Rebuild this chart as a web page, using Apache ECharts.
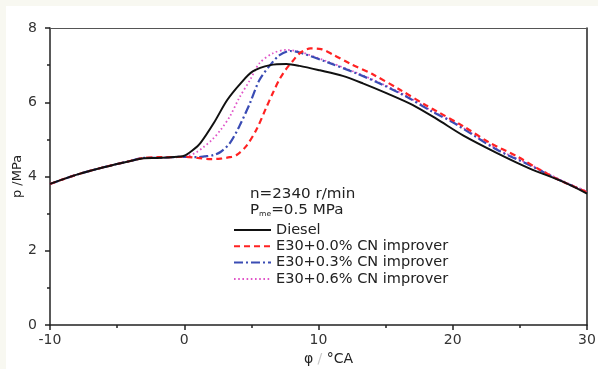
<!DOCTYPE html>
<html>
<head>
<meta charset="utf-8">
<script src="https://cdn.jsdelivr.net/npm/echarts@6/dist/echarts.min.js"></script>
<style>
html,body{margin:0;padding:0;background:#ffffff;}
#wrap{position:relative;width:598px;height:369px;}
.bandT{position:absolute;left:0;top:0;width:598px;height:6px;background:#f8f8f1;}
.bandL{position:absolute;left:0;top:0;width:6px;height:369px;background:#f8f8f1;}
#c{position:absolute;left:0;top:0;width:598px;height:369px;}
</style>
</head>
<body>
<div id="wrap"><div class="bandT"></div><div class="bandL"></div><div id="c"></div></div>
<script>
// Data
var xTicks = [-10, 0, 10, 20, 30];
var yTicks = [0, 2, 4, 6, 8];
var seriesNames = ['Diesel', 'E30+0.0% CN improver', 'E30+0.3% CN improver', 'E30+0.6% CN improver'];

var dieselX = [-10,-8,-6,-4,-3,-2,-1,0,0.6,1.2,2.2,3.2,4.2,5.1,6.4,7.6,8.6,10.1,11.8,13.3,15.1,17,18.8,20.8,23.3,25.7,28.2,30];
var dieselY = [3.8,4.05,4.25,4.42,4.49,4.5,4.52,4.56,4.7,4.9,5.44,6.06,6.51,6.83,7.0,7.03,6.98,6.86,6.71,6.51,6.24,5.93,5.55,5.1,4.63,4.22,3.86,3.54];

var e300X = [-10,-8,-6,-4,-3,-2,-1,0,1,2,2.7,3.4,3.9,4.6,5.4,6.1,6.6,7.1,7.6,8.1,8.6,9.4,10.2,11.1,12.3,14.1,16.1,18,18.8,20.8,22.8,24.8,26.5,28.2,30];
var e300Y = [3.8,4.05,4.25,4.42,4.5,4.52,4.52,4.53,4.5,4.47,4.48,4.52,4.58,4.81,5.28,5.85,6.25,6.62,6.9,7.12,7.32,7.45,7.43,7.28,7.05,6.74,6.33,5.92,5.76,5.35,4.9,4.54,4.18,3.86,3.58];

var e303X = [-10,-8,-6,-4,-3,-2,-1,0,1,1.5,2.2,2.7,3.4,4.1,4.9,5.6,6.4,7.1,7.9,8.6,10.8,12.8,14.6,16.6,18.5,20,23.3,25.7,28.2,30];
var e303Y = [3.8,4.05,4.25,4.42,4.5,4.5,4.52,4.53,4.52,4.54,4.58,4.66,4.9,5.35,5.98,6.6,7.0,7.27,7.38,7.34,7.06,6.78,6.5,6.14,5.74,5.46,4.72,4.31,3.86,3.58];

var e306X = [-10,-8,-6,-4,-3,-2,-1,0,0.4,0.9,1.4,2.1,2.7,3.4,4.1,4.9,5.6,6.6,7.6,8.6,10.8,12.8,14.6,16.6,18.5,20,23.3,25.7,28.2,30];
var e306Y = [3.8,4.05,4.25,4.42,4.5,4.5,4.52,4.53,4.57,4.65,4.78,5.0,5.25,5.62,6.12,6.6,7.05,7.32,7.41,7.36,7.08,6.8,6.52,6.16,5.76,5.48,4.74,4.33,3.88,3.6];

function pairs(xs, ys){ return xs.map(function(x,i){ return [x, ys[i]]; }); }

var FONT = 'DejaVu Sans, Liberation Sans, sans-serif';
var chart = echarts.init(document.getElementById('c'), null, {renderer:'canvas'});
var option = {
  backgroundColor:'transparent',
  animation:false,
  textStyle:{fontFamily:FONT},
  grid:{left:50, top:28, width:537, height:297, containLabel:false, outerBoundsMode:'none'},
  graphic:[
    {type:'text', left:250, top:187, scaleX:1.08, style:{text:'n=2340 r/min', fill:'#222', font:'14px ' + FONT}},
    {type:'text', left:250, top:203, scaleX:1.08, style:{
      text:'P{s|me}=0.5 MPa', fill:'#222', font:'14px ' + FONT,
      rich:{s:{fontSize:7, padding:[9,0,0,0], fill:'#222', fontFamily:FONT}}
    }}
  ],
  legend:{
    orient:'vertical', left:233, top:222, padding:0,
    itemWidth:37, itemHeight:14, itemGap:0.3,
    itemStyle:{opacity:0},
    textStyle:{color:'#222', fontSize:14.5, lineHeight:16, fontFamily:FONT},
    data:seriesNames
  },
  xAxis:[{
    type:'value', min:-10, max:30, interval:10,
    name:'φ {g|/} °CA', nameLocation:'middle', nameGap:27, nameMoveOverlap:false,
    nameTextStyle:{color:'#222', fontSize:14, padding:[0,0,0,20], rich:{g:{color:'#c8c8c8', fontSize:14}}},
    axisLine:{show:true, onZero:false, lineStyle:{color:'#222', width:1.5}},
    axisTick:{show:true, inside:false, length:5, lineStyle:{color:'#222', width:1.5}},
    minorTick:{show:true, splitNumber:2, length:3, lineStyle:{color:'#222', width:1.5}},
    axisLabel:{color:'#333', fontSize:14, margin:8, formatter:function(v){ return xTicks.indexOf(v)>=0 ? String(v) : ''; }},
    splitLine:{show:false}
  },{
    type:'value', position:'top', min:-10, max:30, interval:10,
    axisLine:{show:true, onZero:false, lineStyle:{color:'#555', width:1.2}},
    axisTick:{show:false}, axisLabel:{show:false}, splitLine:{show:false}
  }],
  yAxis:[{
    type:'value', min:0, max:8, interval:2,
    name:'p /MPa', nameLocation:'middle', nameGap:26, nameRotate:90, nameMoveOverlap:false,
    nameTextStyle:{color:'#222', fontSize:13},
    axisLine:{show:true, onZero:false, lineStyle:{color:'#222', width:1.5}},
    axisTick:{show:true, inside:false, length:5, lineStyle:{color:'#222', width:1.5}},
    minorTick:{show:true, splitNumber:2, length:3, lineStyle:{color:'#222', width:1.5}},
    axisLabel:{color:'#333', fontSize:14, margin:13, formatter:function(v){ return yTicks.indexOf(v)>=0 ? String(v) : ''; }},
    splitLine:{show:false}
  },{
    type:'value', position:'right', min:0, max:8, interval:2,
    axisLine:{show:true, onZero:false, lineStyle:{color:'#222', width:1.5}},
    axisTick:{show:false}, axisLabel:{show:false}, splitLine:{show:false}
  }],
  series:[
    {name:seriesNames[0], type:'line', data:pairs(dieselX, dieselY), symbol:'none', smooth:0.3, z:5,
     color:'#111', lineStyle:{color:'#111', width:2, type:'solid'}},
    {name:seriesNames[1], type:'line', data:pairs(e300X, e300Y), symbol:'none', smooth:0.3, z:4,
     color:'#f22', lineStyle:{color:'#f22', width:2.2, type:[6,4]}},
    {name:seriesNames[2], type:'line', data:pairs(e303X, e303Y), symbol:'none', smooth:0.3, z:3,
     color:'#3a4cb4', lineStyle:{color:'#3a4cb4', width:2.2, type:[9,3,2,3]}},
    {name:seriesNames[3], type:'line', data:pairs(e306X, e306Y), symbol:'none', smooth:0.3, z:2,
     color:'#e055c8', lineStyle:{color:'#e055c8', width:1.8, type:[1.6,2.6]}}
  ]
};
chart.setOption(option);
</script>
</body>
</html>
